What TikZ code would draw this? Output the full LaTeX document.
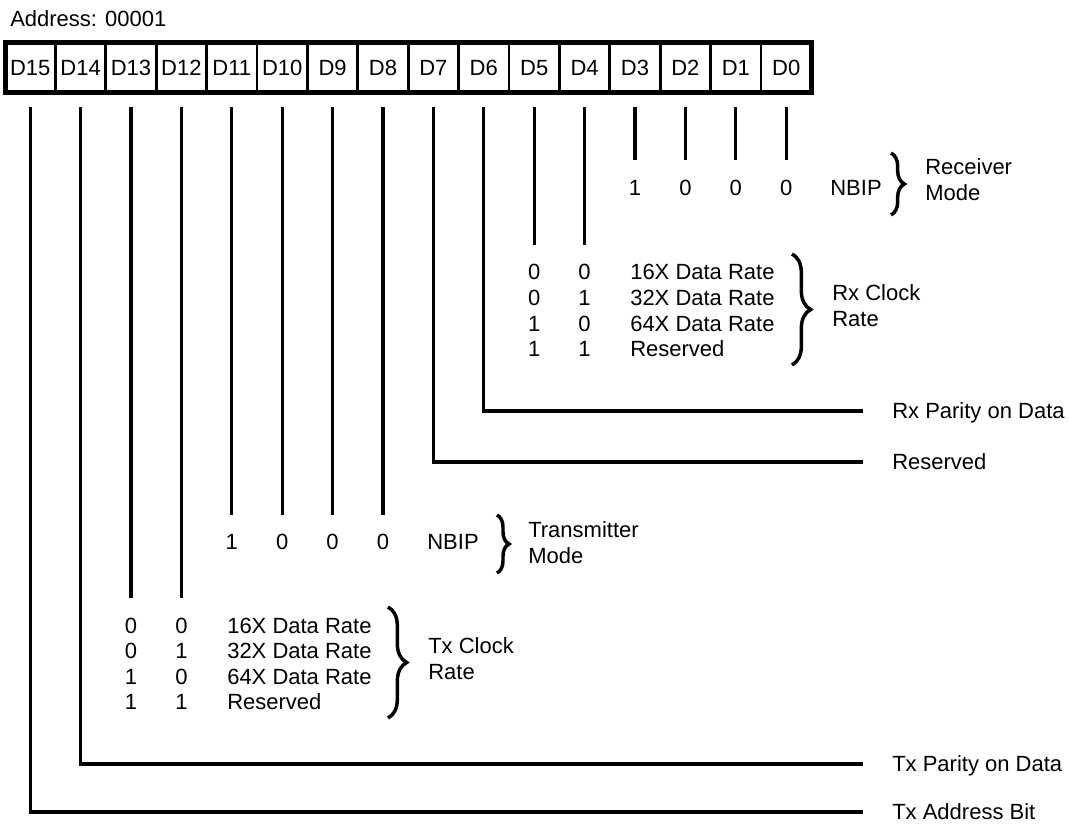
\documentclass[tikz,border=0pt]{standalone}
\usepackage{fontspec}
\setmainfont{Liberation Sans}
\usepackage{tikz}
\usetikzlibrary{decorations.pathreplacing}
\newcommand{\topbit}{15}

\begin{document}
\begin{tikzpicture}[x=0.75pt,y=-0.75pt,font=\fontsize{16.5}{19.5}\selectfont,
    cell/.style={draw,line width=2pt,outer sep=0,inner sep=0,minimum width=37.8pt,
                 minimum height=37.5pt,text height=11.8pt,text depth=0pt},
    val/.style={inner sep=0,text height=11.8pt,text depth=0pt},
    tag/.style={val,anchor=west},
    note/.style={inner sep=0,anchor=west,align=left},
    bitline/.style={line width=2.4pt,shorten <=11pt,shorten >=14.5pt},
    legline/.style={line width=2.4pt,shorten <=11pt,shorten >=21.75pt},
    curly/.style={decorate,decoration={brace,amplitude=#1},line width=2.6pt}]
  \useasboundingbox (0,0) rectangle (1069,827);
  \node[tag] (addr) at (10,18.5) {Address: 00001};
  \foreach \i in {0,...,\topbit}{%
    \pgfmathtruncatemacro\b{\topbit-\i}
    \node[cell] (d\b) at ({30.2+50.4*\i},67.5) {D\b};
  }
  \draw[line width=3.75pt] (d15.north west) rectangle (d0.south east);

  % receiver mode
  \foreach \b/\v in {3/1,2/0,1/0,0/0}{%
    \node[val] (rm\b) at (d\b |- 0,187.5) {\v};
    \draw[bitline] (d\b.south) -- (rm\b.north);
  }
  \node[val] (rmnbip) at (856,187.5) {NBIP};
  \draw[curly=10pt] (891,153) -- (891,215);
  \node[note] (rmode) at (925,180) {Receiver\\Mode};

  % rx clock rate
  \foreach \p/\q/\t [count=\k from 0] in {0/0/16X Data Rate,0/1/32X Data Rate,
      1/0/64X Data Rate,1/1/Reserved}{%
    \pgfmathsetmacro\yy{272+25.7*\k}
    \node[val] (rxa\k) at (d5 |- 0,\yy) {\p};
    \node[val] (rxb\k) at (d4 |- 0,\yy) {\q};
    \node[tag] (rxt\k) at (630,\yy) {\t};
  }
  \draw[bitline] (d5.south) -- (rxa0.north);
  \draw[bitline] (d4.south) -- (rxb0.north);
  \draw[curly=14pt] (792,254) -- (792,365);
  \node[note] (rxclk) at (832,306) {Rx Clock\\Rate};

  % single bits on the right
  \node[tag] (rxpar) at (892,411) {Rx Parity on Data};
  \node[tag] (rsvd) at (892,462) {Reserved};
  \node[tag] (txpar) at (892,764) {Tx Parity on Data};
  \node[tag] (txadr) at (892,812) {Tx Address Bit};
  \draw[legline] (d6.south) |- (rxpar.west);
  \draw[legline] (d7.south) |- (rsvd.west);
  \draw[legline] (d14.south) |- (txpar.west);
  \draw[legline] (d15.south) |- (txadr.west);

  % transmitter mode
  \foreach \b/\v in {11/1,10/0,9/0,8/0}{%
    \node[val] (tm\b) at (d\b |- 0,542) {\v};
    \draw[bitline] (d\b.south) -- (tm\b.north);
  }
  \node[val] (tmnbip) at (453,542) {NBIP};
  \draw[curly=9pt] (497,515) -- (497,573);
  \node[note] (tmode) at (528,543) {Transmitter\\Mode};

  % tx clock rate
  \foreach \p/\q/\t [count=\k from 0] in {0/0/16X Data Rate,0/1/32X Data Rate,
      1/0/64X Data Rate,1/1/Reserved}{%
    \pgfmathsetmacro\yy{625.5+25.5*\k}
    \node[val] (txa\k) at (d13 |- 0,\yy) {\p};
    \node[val] (txb\k) at (d12 |- 0,\yy) {\q};
    \node[tag] (txt\k) at (227,\yy) {\t};
  }
  \draw[bitline] (d13.south) -- (txa0.north);
  \draw[bitline] (d12.south) -- (txb0.north);
  \draw[curly=14pt] (388,607) -- (388,718);
  \node[note] (txclk) at (428,659) {Tx Clock\\Rate};
\end{tikzpicture}
\end{document}
